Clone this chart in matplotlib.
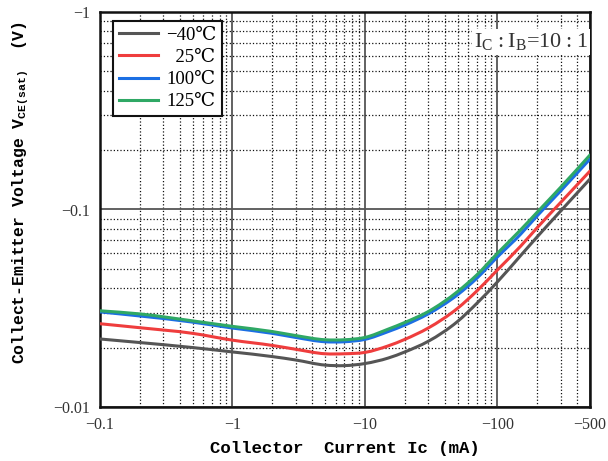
import numpy as np
import matplotlib
matplotlib.use("Agg")
import matplotlib.pyplot as plt
from matplotlib.ticker import FixedLocator, NullFormatter
from matplotlib.path import Path
from matplotlib.patches import PathPatch
from matplotlib.lines import Line2D

# Collector current (mA) and saturation voltage (V) for a PNP device
ic_ma = [-0.1, -0.2, -0.5, -1, -2, -3, -5, -7, -10, -15, -20, -30, -50, -70,
         -100, -150, -200, -300, -500]
vce_m40 = [-0.0221, -0.0212, -0.0200, -0.0190, -0.0180, -0.0173, -0.0163, -0.0162,
           -0.0166, -0.0177, -0.0190, -0.0215, -0.0271, -0.0335, -0.0430, -0.0585,
           -0.0728, -0.0982, -0.1427]
vce_25 = [-0.0264, -0.0252, -0.0236, -0.0218, -0.0205, -0.0196, -0.0186, -0.0186,
          -0.0189, -0.0204, -0.0220, -0.0251, -0.0316, -0.0387, -0.0494, -0.0653,
          -0.0810, -0.1085, -0.1566]
vce_100 = [-0.0303, -0.0289, -0.0269, -0.0251, -0.0236, -0.0225, -0.0214, -0.0214,
           -0.0220, -0.0241, -0.0260, -0.0296, -0.0370, -0.0449, -0.0575, -0.0751,
           -0.0930, -0.1241, -0.1802]
vce_125 = [-0.0307, -0.0296, -0.0273, -0.0256, -0.0241, -0.0230, -0.0219, -0.0219,
           -0.0225, -0.0248, -0.0268, -0.0304, -0.0384, -0.0467, -0.0600, -0.0790,
           -0.0970, -0.1295, -0.1888]

series_labels = ["\u221240\u2103", "\u200725\u2103", "100\u2103", "125\u2103"]
series_colors = ["#555555", "#ef3d3d", "#1c6fe3", "#2fa865"]

x_ticks = [-0.1, -1, -10, -100, -500]
x_tick_labels = ["\u22120.1", "\u22121", "\u221210", "\u2212100", "\u2212500"]
y_ticks = [-0.01, -0.1, -1]
y_tick_labels = ["\u22120.01", "\u22120.1", "\u22121"]

serif = ["Liberation Serif", "DejaVu Serif"]
mono = ["Liberation Mono", "DejaVu Sans Mono"]

plt.rcParams["mathtext.fontset"] = "custom"
plt.rcParams["mathtext.rm"] = "Liberation Serif"
plt.rcParams["mathtext.bf"] = "Liberation Mono:bold"


def smooth_log_path(xs, ys):
    """Cubic Hermite path through the points, built in log-log space."""
    lx, ly = np.log10(xs), np.log10(ys)
    dx = np.diff(lx)
    s = np.diff(ly) / dx
    m = np.empty_like(lx)
    m[0], m[-1] = s[0], s[-1]
    m[1:-1] = (s[:-1] * dx[1:] + s[1:] * dx[:-1]) / (dx[:-1] + dx[1:])
    verts = [(lx[0], ly[0])]
    codes = [Path.MOVETO]
    for i in range(len(dx)):
        h = dx[i] / 3.0
        verts += [(lx[i] + h, ly[i] + h * m[i]),
                  (lx[i + 1] - h, ly[i + 1] - h * m[i + 1]),
                  (lx[i + 1], ly[i + 1])]
        codes += [Path.CURVE4] * 3
    verts = 10.0 ** np.array(verts)
    return Path(verts, codes)


fig = plt.figure(figsize=(6.08, 4.61), dpi=100)
ax = fig.add_axes([100 / 608, 54 / 461, 490 / 608, 395 / 461])
ax.set_xscale("log")
ax.set_yscale("log")
ax.set_xlim(0.1, 500)
ax.set_ylim(0.01, 1)

x = np.abs(ic_ma)
handles = []
for vals, lab, col in zip([vce_m40, vce_25, vce_100, vce_125], series_labels, series_colors):
    patch = PathPatch(smooth_log_path(x, np.abs(vals)), fill=False, edgecolor=col,
                      lw=2.2, zorder=3, transform=ax.transData, capstyle="round",
                      joinstyle="round")
    ax.add_patch(patch)
    handles.append(Line2D([], [], color=col, lw=2.2, label=lab))

ax.xaxis.set_major_locator(FixedLocator(np.abs(x_ticks)))
ax.set_xticklabels(x_tick_labels)
ax.yaxis.set_major_locator(FixedLocator(np.abs(y_ticks)))
ax.set_yticklabels(y_tick_labels)

minor_x = [m * 10.0 ** e for e in (-1, 0, 1, 2) for m in range(2, 10) if m * 10.0 ** e < 500]
minor_y = [m * 10.0 ** e for e in (-2, -1) for m in range(2, 10)]
ax.xaxis.set_minor_locator(FixedLocator(minor_x))
ax.yaxis.set_minor_locator(FixedLocator(minor_y))
ax.xaxis.set_minor_formatter(NullFormatter())
ax.yaxis.set_minor_formatter(NullFormatter())

ax.tick_params(which="both", length=0)
ax.tick_params(axis="x", pad=7)
ax.tick_params(axis="y", pad=7)
for t in ax.get_xticklabels() + ax.get_yticklabels():
    t.set_fontfamily(serif)
    t.set_fontsize(11.5)
    t.set_color("#333333")

ax.grid(which="major", color="#555555", lw=1.3, ls="-", zorder=1)
ax.grid(which="minor", color="#111111", lw=0.9, ls=":", zorder=1)
ax.set_axisbelow(True)

for sp in ax.spines.values():
    sp.set_linewidth(1.8)
    sp.set_color("#111111")

ax.set_xlabel("Collector  Current Ic (mA)", fontfamily=mono, fontweight="bold",
              fontsize=12.5, labelpad=6)
ax.set_ylabel(r"Collect-Emitter Voltage V$_{\mathbf{CE(sat)}}$  (V)", fontfamily=mono,
              fontweight="bold", fontsize=11.8)
ax.yaxis.set_label_coords((31 - 100) / 490, (407 - 193) / 395)

leg = ax.legend(handles=handles, loc="upper left", bbox_to_anchor=(13 / 490, 1 - 9 / 395),
                borderaxespad=0, prop={"family": serif, "size": 13.5},
                handlelength=2.1, handletextpad=0.45, labelspacing=0.27,
                borderpad=0.3, fancybox=False, framealpha=1, edgecolor="#111111")
leg.get_frame().set_linewidth(1.5)
leg.set_zorder(5)

ax.text((588 - 100) / 490, (407 - 42) / 395,
        "I$_\\mathrm{C}$\u2009:\u2009I$_\\mathrm{B}$=10\u2009:\u20091",
        transform=ax.transAxes, ha="right", va="center", fontsize=16,
        fontfamily=serif, color="#333333", zorder=4,
        bbox=dict(boxstyle="square,pad=0.1", fc="white", ec="none"))

fig.savefig("out.png", dpi=100)
